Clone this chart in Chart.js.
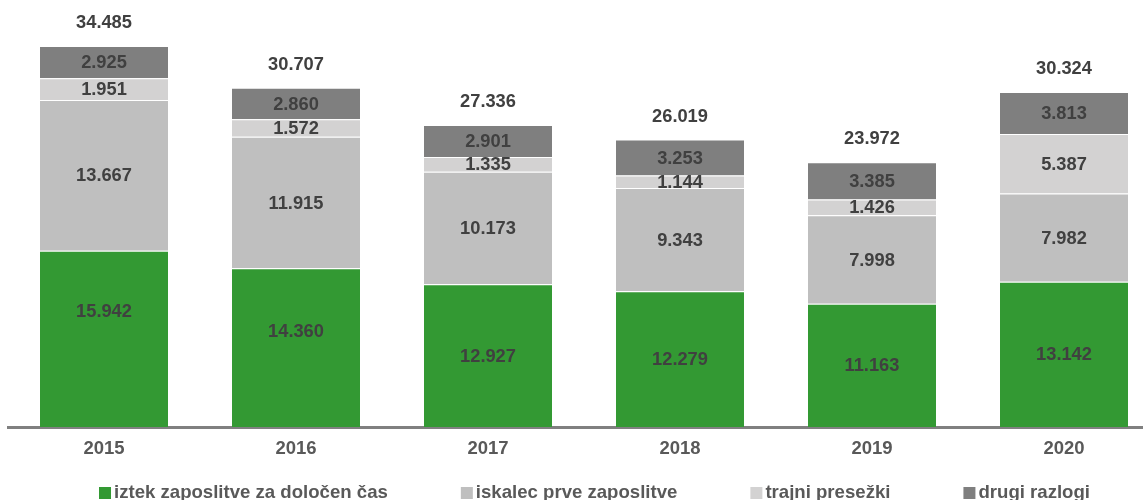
<!DOCTYPE html>
<html>
<head>
<meta charset="utf-8">
<script src="https://cdn.jsdelivr.net/npm/chart.js@4"></script>
<style>
  html, body { margin: 0; padding: 0; background: #fff; overflow: hidden; }
  #wrap { position: relative; width: 1160px; height: 500px; }
</style>
</head>
<body>
<div id="wrap"><canvas id="stackChart"></canvas></div>
<script>
const years = ['2015', '2016', '2017', '2018', '2019', '2020'];
const seriesNames = ['iztek zaposlitve za določen čas', 'iskalec prve zaposlitve', 'trajni presežki', 'drugi razlogi'];
const iztek = [15942, 14360, 12927, 12279, 11163, 13142];
const iskalec = [13667, 11915, 10173, 9343, 7998, 7982];
const presezki = [1951, 1572, 1335, 1144, 1426, 5387];
const drugi = [2925, 2860, 2901, 3253, 3385, 3813];
const colors = ['#339933', '#bfbfbf', '#d3d2d2', '#7f7f7f'];

const fontFamily = '"Liberation Sans", Arial, sans-serif';
const fmt = v => String(v).replace(/\B(?=(\d{3})+(?!\d))/g, '.');

// the first two green labels sit higher than the middle in the original
const labelNudge = { '0-0': -28, '0-1': -17 };

// values inside segments + totals on top
const labelsPlugin = {
  id: 'labels',
  afterDatasetsDraw(chart) {
    const ctx = chart.ctx;
    ctx.save();
    ctx.font = 'bold 18.3px ' + fontFamily;
    ctx.fillStyle = '#404040';
    ctx.textAlign = 'center';
    ctx.textBaseline = 'middle';
    chart.data.datasets.forEach((ds, di) => {
      chart.getDatasetMeta(di).data.forEach((bar, i) => {
        const mid = (bar.y + bar.base) / 2 + 1 + (labelNudge[di + '-' + i] || 0);
        ctx.fillText(fmt(ds.data[i]), bar.x, mid);
      });
    });
    const last = chart.getDatasetMeta(chart.data.datasets.length - 1).data;
    last.forEach((bar, i) => {
      const total = chart.data.datasets.reduce((s, ds) => s + ds.data[i], 0);
      ctx.fillText(fmt(total), bar.x, bar.y - 23);
    });
    ctx.restore();
  }
};

// legend along the bottom
const legendPlugin = {
  id: 'bottomLegend',
  afterDraw(chart) {
    const ctx = chart.ctx;
    ctx.save();
    ctx.font = 'bold 18.6px ' + fontFamily;
    const box = 12, gapBox = 3, gapItem = 73;
    let x = 99;
    const y = 493;
    ctx.textBaseline = 'middle';
    ctx.textAlign = 'left';
    seriesNames.forEach((n, i) => {
      ctx.fillStyle = colors[i];
      ctx.fillRect(x, y - box / 2, box, box);
      ctx.fillStyle = '#595959';
      ctx.fillText(n, x + box + gapBox, y);
      x += box + gapBox + ctx.measureText(n).width + gapItem;
    });
    ctx.restore();
  }
};

const dataArrays = [iztek, iskalec, presezki, drugi];

new Chart(document.getElementById('stackChart'), {
  type: 'bar',
  data: {
    labels: years,
    datasets: dataArrays.map((d, i) => ({
      label: seriesNames[i],
      data: d,
      backgroundColor: colors[i],
      borderColor: '#ffffff',
      borderWidth: { top: 1 },
      borderSkipped: false,
      categoryPercentage: 1,
      barPercentage: 0.667
    }))
  },
  options: {
    responsive: true,
    maintainAspectRatio: false,
    animation: false,
    layout: { padding: { left: 8, right: 0, top: 0, bottom: 0 } },
    plugins: {
      legend: { display: false },
      tooltip: { enabled: false }
    },
    scales: {
      x: {
        stacked: true,
        grid: { display: false, drawTicks: false },
        border: { display: true, color: '#808080', width: 3 },
        ticks: {
          color: '#595959',
          padding: 11,
          font: { family: fontFamily, size: 18.5, weight: 'bold' }
        },
        afterFit: s => { s.height = 73; }
      },
      y: {
        stacked: true,
        display: false,
        min: 0,
        max: 38650
      }
    }
  },
  plugins: [labelsPlugin, legendPlugin]
});
</script>
</body>
</html>
